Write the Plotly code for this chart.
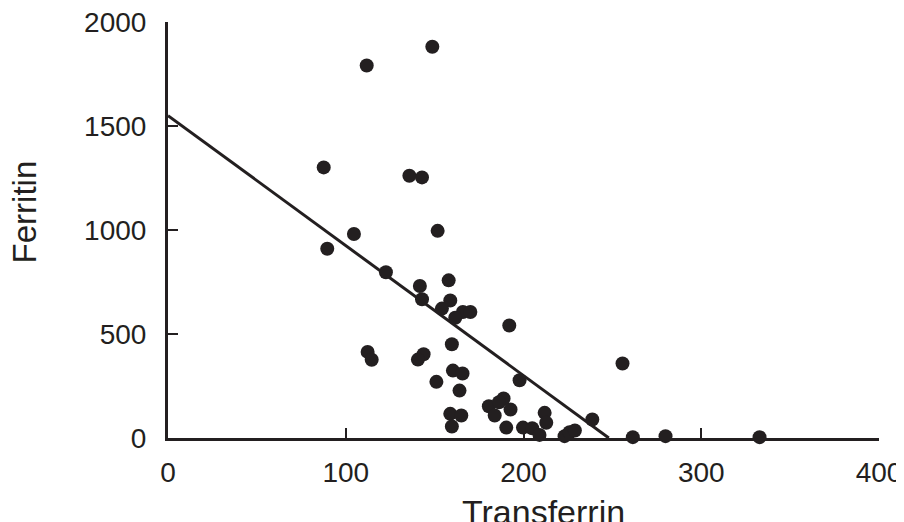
import plotly.graph_objects as go

# Scatter data (Transferrin vs Ferritin)
transferrin = [148.7, 111.8, 87.6, 135.8, 142.9, 89.6, 104.6, 151.7, 122.6, 141.7,
               157.9, 142.9, 158.8, 154.1, 165.9, 170.1, 161.6, 159.7, 112.3, 114.6,
               143.8, 140.6, 151.0, 160.3, 165.7, 164.0, 158.8, 165.0, 159.7, 192.0,
               255.7, 197.8, 238.7, 180.5, 188.8, 186.2, 192.7, 183.8, 190.3, 199.7,
               204.9, 209.0, 211.9, 212.8, 223.1, 225.9, 228.9, 261.5, 279.9, 332.8]
ferritin = [1881, 1791, 1301, 1261, 1253, 910, 981, 996, 797, 731,
            758, 667, 661, 622, 606, 606, 578, 451, 414, 376,
            403, 377, 270, 324, 310, 228, 116, 108, 55, 541,
            358, 278, 89, 153, 190, 172, 137, 108, 50, 50,
            47, 15, 121, 73, 9, 28, 36, 4, 9, 4]

# Regression line endpoints
fit_x = [0, 248]
fit_y = [1550, 0]

x_ticks = [0, 100, 200, 300, 400]
y_ticks = [0, 500, 1000, 1500, 2000]

ink = "#231f20"
font_family = "Liberation Sans, Arial, Helvetica, sans-serif"

fig = go.Figure()
fig.add_trace(go.Scatter(x=fit_x, y=fit_y, mode="lines",
                         line=dict(color=ink, width=3), cliponaxis=False,
                         showlegend=False, hoverinfo="skip"))
fig.add_trace(go.Scatter(x=transferrin, y=ferritin, mode="markers",
                         marker=dict(color=ink, size=14, line=dict(width=0)),
                         cliponaxis=False, showlegend=False))

# page body has an 8px margin, so the figure is sized/offset to compensate
fig.update_layout(
    width=896, height=514,
    margin=dict(l=160, r=25, t=14, b=84, autoexpand=False),
    paper_bgcolor="white", plot_bgcolor="white",
    font=dict(family=font_family, color=ink, size=28),
    xaxis=dict(range=[0, 400], tickvals=x_ticks, ticktext=[str(v) for v in x_ticks],
               showgrid=False, zeroline=False, showline=True, linecolor=ink, linewidth=3,
               ticks="inside", ticklen=10, tickwidth=2, tickcolor=ink, automargin=False,
               ticklabeloverflow="allow",
               ticklabelstandoff=7, tickfont=dict(size=28, color=ink)),
    yaxis=dict(range=[0, 2000], tickvals=y_ticks, ticktext=[str(v) for v in y_ticks],
               showgrid=False, zeroline=False, showline=True, linecolor=ink, linewidth=3,
               ticks="inside", ticklen=10, tickwidth=2, tickcolor=ink, automargin=False,
               ticklabeloverflow="allow",
               ticklabelstandoff=13, tickfont=dict(size=28, color=ink)),
    annotations=[
        dict(text="Transferrin", xref="paper", yref="paper", x=0.528, y=-0.177,
             xanchor="center", yanchor="middle", showarrow=False,
             font=dict(size=34, color=ink, family=font_family)),
        dict(text="Ferritin", xref="paper", yref="paper", x=-0.2015, y=0.544,
             xanchor="center", yanchor="middle", showarrow=False, textangle=-90,
             font=dict(size=33, color=ink, family=font_family)),
    ],
)

fig.write_html("out.html")
